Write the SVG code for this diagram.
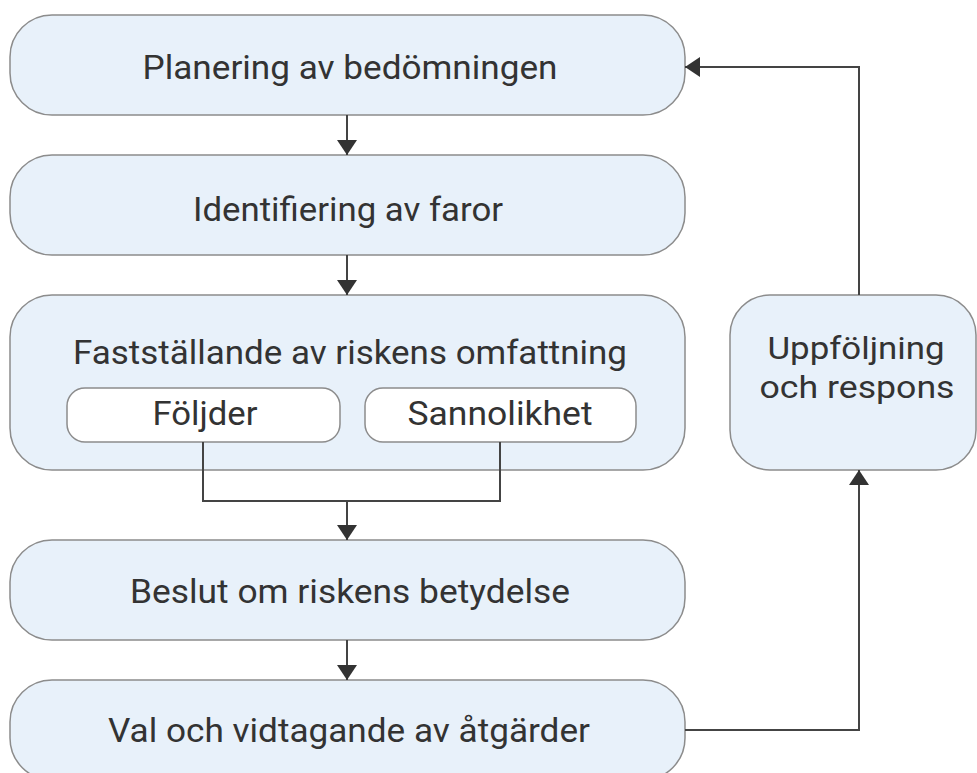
<svg xmlns="http://www.w3.org/2000/svg" width="977" height="773" viewBox="0 0 977 773">
<defs>
<marker id="ah" markerWidth="18" markerHeight="20" refX="15" refY="10" orient="auto" markerUnits="userSpaceOnUse">
<path d="M0,0 L15,10 L0,20 Z" fill="#333"/>
</marker>
<style>
.box{fill:#e8f1fa;stroke:#8c8c8c;stroke-width:1.5}
.sub{fill:#fff;stroke:#8c8c8c;stroke-width:1.5}
.t{font-family:Roboto,"Liberation Sans",sans-serif;font-size:34px;fill:#333;text-anchor:middle}
.s{font-size:33px}
.r{font-size:31px}
.c{fill:none;stroke:#444;stroke-width:2}
</style>
</defs>
<rect width="977" height="773" fill="#fff"/>
<g id="n1"><rect class="box" x="10" y="15" width="675" height="100" rx="42"/><text class="t" x="350" y="79" textLength="415" lengthAdjust="spacingAndGlyphs">Planering av bedömningen</text></g>
<g id="n2"><rect class="box" x="10" y="155" width="675" height="100" rx="42"/><text class="t" x="348" y="221" textLength="310" lengthAdjust="spacingAndGlyphs">Identifiering av faror</text></g>
<g id="n3"><rect class="box" x="10" y="295" width="675" height="175" rx="42"/><text class="t" x="350" y="364" textLength="554" lengthAdjust="spacingAndGlyphs">Fastställande av riskens omfattning</text></g>
<g id="n3a"><rect class="sub" x="67" y="388" width="273" height="54" rx="18"/><text class="t s" x="205" y="425" textLength="105" lengthAdjust="spacingAndGlyphs">Följder</text></g>
<g id="n3b"><rect class="sub" x="365" y="388" width="271" height="54" rx="18"/><text class="t s" x="500" y="425" textLength="185" lengthAdjust="spacingAndGlyphs">Sannolikhet</text></g>
<g id="n4"><rect class="box" x="10" y="540" width="675" height="100" rx="42"/><text class="t" x="350" y="603" textLength="440" lengthAdjust="spacingAndGlyphs">Beslut om riskens betydelse</text></g>
<g id="n5"><rect class="box" x="10" y="680" width="675" height="100" rx="42"/><text class="t" x="349" y="742" textLength="482" lengthAdjust="spacingAndGlyphs">Val och vidtagande av åtgärder</text></g>
<g id="n6"><rect class="box" x="730" y="295" width="246" height="175" rx="40"/><text class="t r" x="856" y="359" textLength="177" lengthAdjust="spacingAndGlyphs">Uppföljning</text><text class="t r" x="857" y="398" textLength="195" lengthAdjust="spacingAndGlyphs">och respons</text></g>
<g id="connectors">
<line class="c" x1="347" y1="115" x2="347" y2="155" marker-end="url(#ah)"/>
<line class="c" x1="347" y1="255" x2="347" y2="295" marker-end="url(#ah)"/>
<polyline class="c" points="203,442 203,501 500,501 500,442"/>
<line class="c" x1="347" y1="501" x2="347" y2="540" marker-end="url(#ah)"/>
<line class="c" x1="347" y1="640" x2="347" y2="680" marker-end="url(#ah)"/>
<polyline class="c" points="685,730 859,730 859,470" marker-end="url(#ah)"/>
<polyline class="c" points="859,295 859,67 685,67" marker-end="url(#ah)"/>
</g>
</svg>
